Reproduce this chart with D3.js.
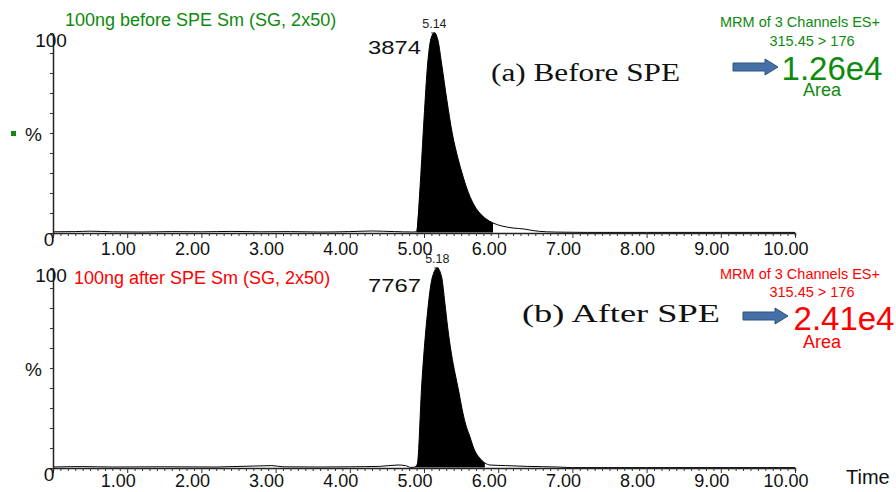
<!DOCTYPE html>
<html>
<head>
<meta charset="utf-8">
<script src="https://cdn.jsdelivr.net/npm/d3@7"></script>
<style>
  html, body { margin: 0; padding: 0; background: #fff; }
  svg { display: block; font-family: "Liberation Sans", Arial, sans-serif; }
</style>
</head>
<body>
<svg id="chart" width="896" height="492"></svg>
<script>
// retention time axis (minutes)
var timeDomain = [0, 10];
var timeTicks = [1, 2, 3, 4, 5, 6, 7, 8, 9, 10];

// (a) before SPE, relative intensity % vs time
var traceBefore = [
  [0, 0.6], [0.3, 0.7], [0.5, 0.9], [0.8, 0.6], [1.2, 0.5], [1.6, 0.7],
  [2.0, 0.6], [2.4, 0.8], [2.8, 0.6], [3.2, 0.7], [3.6, 0.5], [4.0, 0.7],
  [4.3, 1.0], [4.6, 0.7], [4.85, 0.5], [4.90, 0.6], [4.95, 25], [5.00, 57],
  [5.05, 85], [5.10, 98], [5.14, 100], [5.19, 96], [5.24, 84], [5.31, 66],
  [5.38, 50], [5.46, 37], [5.52, 29], [5.58, 22], [5.66, 15], [5.75, 10],
  [5.84, 7], [5.93, 5], [6.05, 3.5], [6.20, 2.5], [6.35, 2.0], [6.47, 1.2],
  [6.65, 0.6], [6.9, 0.4], [7.2, 0.3], [8, 0.3], [9, 0.3], [10, 0.3]
];

// (b) after SPE
var traceAfter = [
  [0, 0.5], [0.4, 0.7], [0.8, 0.5], [1.5, 0.6], [2.2, 0.5], [2.95, 1.2],
  [3.1, 0.6], [3.6, 0.5], [4.0, 0.6], [4.4, 0.8], [4.65, 1.5], [4.75, 1.2],
  [4.82, 0.3], [4.88, 0.5], [4.91, 2], [4.97, 42], [5.04, 75], [5.11, 95],
  [5.18, 100], [5.24, 95], [5.28, 83], [5.32, 70], [5.37, 57], [5.42, 47],
  [5.47, 38], [5.51, 30], [5.56, 22], [5.62, 15.5], [5.68, 9], [5.75, 5],
  [5.82, 2.5], [5.89, 1.5], [6.1, 1.2], [6.4, 0.8], [6.8, 0.5], [7.0, 0.2],
  [8, 0.2], [10, 0.2]
];

var sampleTitles = ['100ng before SPE Sm (SG, 2x50)', '100ng after SPE Sm (SG, 2x50)'];
var panelLabels = ['(a) Before SPE', '(b) After SPE'];
var apexTimes = ['5.14', '5.18'];
var apexHeights = ['3874', '7767'];
var peakAreas = ['1.26e4', '2.41e4'];
var peakRanges = [[4.90, 5.96], [4.88, 5.85]];
var channelLines = ['MRM of 3 Channels ES+', '315.45 > 176'];

var svg = d3.select('#chart');
var x = d3.scaleLinear().domain(timeDomain).range([53, 795]);

var panels = [
  { trace: traceBefore, top: 33, bottom: 233, color: '#0e8a0e', titleX: 65, titleY: 26, tickY: 22,
    labelX: 491, labelY: 81, labelW: 189, arrowX: 733, arrowY: 67, areaX: 832, areaY: 80, square: true },
  { trace: traceAfter, top: 268, bottom: 468, color: '#ff0000', titleX: 74, titleY: 284, tickY: 19,
    labelX: 522, labelY: 322, labelW: 198, arrowX: 743, arrowY: 316, areaX: 844, areaY: 330, square: false }
];

panels.forEach(function (p, i) {
  var y = d3.scaleLinear().domain([0, 100]).range([p.bottom, p.top]);
  var g = svg.append('g');

  // peak fill
  var range = peakRanges[i];
  var inPeak = p.trace.filter(function (d) { return d[0] >= range[0] && d[0] <= range[1]; });
  g.append('path')
    .datum(inPeak)
    .attr('d', d3.area().curve(d3.curveMonotoneX)
      .x(function (d) { return x(d[0]); })
      .y0(y(0.3))
      .y1(function (d) { return y(d[1]); }))
    .attr('fill', '#000');

  // trace
  g.append('path')
    .datum(p.trace)
    .attr('d', d3.line().curve(d3.curveMonotoneX)
      .x(function (d) { return x(d[0]); })
      .y(function (d) { return y(d[1]); }))
    .attr('fill', 'none')
    .attr('stroke', '#000')
    .attr('stroke-width', 1);

  // x axis with minor ticks
  var xAxis = g.append('g')
    .attr('transform', 'translate(0,' + p.bottom + ')')
    .call(d3.axisBottom(x)
      .tickValues(d3.range(0, 101).map(function (v) { return v / 10; }))
      .tickSizeOuter(0)
      .tickSize(3)
      .tickFormat(''));
  xAxis.select('.domain').attr('stroke', '#222').attr('stroke-width', 1.5);
  xAxis.selectAll('.tick line')
    .attr('stroke', '#333')
    .attr('y2', function (d) { return Math.abs(d - Math.round(d)) < 1e-6 ? 5 : 3; });

  xAxis.selectAll('.lbl')
    .data(timeTicks)
    .enter().append('text')
    .attr('class', 'lbl')
    .attr('x', function (d) { return x(d) - 9; })
    .attr('y', p.tickY)
    .attr('fill', '#111')
    .attr('font-size', 18)
    .text(d3.format('.2f'));

  // y axis
  var yAxis = g.append('g')
    .attr('transform', 'translate(53,0)')
    .call(d3.axisLeft(y).tickValues(d3.range(0, 101, 10)).tickSize(3).tickSizeOuter(0).tickFormat(''));
  yAxis.select('.domain').attr('stroke', '#222').attr('stroke-width', 1.5);
  yAxis.selectAll('.tick line').attr('stroke', '#333');

  g.append('text').attr('x', 51).attr('y', p.top + 14).attr('text-anchor', 'middle')
    .attr('font-size', 19).attr('fill', '#111').text('100');
  g.append('text').attr('x', 49).attr('y', p.bottom + 13).attr('text-anchor', 'middle')
    .attr('font-size', 19).attr('fill', '#111').text('0');
  g.append('text').attr('x', 25).attr('y', p.top + 108).attr('font-size', 19)
    .attr('fill', '#111').text('%');
  if (p.square) {
    g.append('rect').attr('x', 11).attr('y', p.top + 98).attr('width', 5).attr('height', 5)
      .attr('fill', '#0e8a0e');
  }

  // sample title
  g.append('text')
    .attr('x', p.titleX)
    .attr('y', p.titleY)
    .attr('font-size', 18)
    .attr('fill', p.color)
    .text(sampleTitles[i]);

  // apex annotations
  var apexT = +apexTimes[i];
  g.append('text').attr('x', x(apexT)).attr('y', p.top - 5).attr('text-anchor', 'middle')
    .attr('font-size', 12.5).attr('fill', '#222').text(apexTimes[i]);
  g.append('path')
    .attr('d', 'M' + (x(apexT) - 3) + ',' + p.top + 'H' + (x(apexT) + 1) + 'V' + (p.top + 4))
    .attr('stroke', '#000').attr('fill', 'none');
  g.append('text').attr('x', 368).attr('y', p.top + (i === 0 ? 21 : 24))
    .attr('textLength', 53).attr('lengthAdjust', 'spacingAndGlyphs')
    .attr('font-size', 19).attr('fill', '#111').text(apexHeights[i]);

  // panel caption
  g.append('text').attr('x', p.labelX).attr('y', p.labelY)
    .attr('font-family', '"Liberation Serif", "Times New Roman", serif')
    .attr('textLength', p.labelW).attr('lengthAdjust', 'spacingAndGlyphs')
    .attr('font-size', 26).attr('fill', '#111').text(panelLabels[i]);

  // channel info
  g.append('text').attr('x', 800).attr('y', i === 0 ? 27 : 279).attr('text-anchor', 'middle')
    .attr('font-size', 14.5).attr('fill', p.color).text(channelLines[0]);
  g.append('text').attr('x', 812).attr('y', i === 0 ? 46 : 297).attr('text-anchor', 'middle')
    .attr('font-size', 14.5).attr('fill', p.color).text(channelLines[1]);

  // block arrow
  var ax = p.arrowX, ay = p.arrowY;
  g.append('path')
    .attr('d', 'M' + ax + ',' + (ay - 4) + 'H' + (ax + 32) + 'V' + (ay - 8) + 'L' + (ax + 45) + ',' + ay +
      'L' + (ax + 32) + ',' + (ay + 8) + 'V' + (ay + 4) + 'H' + ax + 'Z')
    .attr('fill', '#4470a6').attr('stroke', '#2f5282').attr('stroke-width', 1);

  // peak area
  g.append('text').attr('x', p.areaX).attr('y', p.areaY).attr('text-anchor', 'middle')
    .attr('font-size', 33).attr('fill', p.color).text(peakAreas[i]);
  g.append('text').attr('x', 822).attr('y', p.areaY + (i === 0 ? 16 : 18)).attr('text-anchor', 'middle')
    .attr('font-size', 18).attr('fill', p.color).text('Area');
});

svg.append('text').attr('x', 846).attr('y', 484).attr('font-size', 20).attr('fill', '#111').text('Time');
</script>
</body>
</html>
